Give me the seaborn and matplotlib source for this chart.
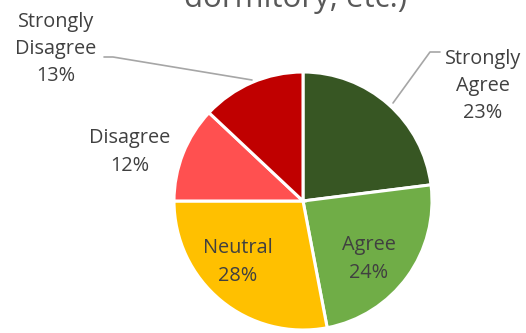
import matplotlib
matplotlib.use("Agg")
import matplotlib.pyplot as plt
import seaborn as sns

categories = ["Strongly Agree", "Agree", "Neutral", "Disagree", "Strongly Disagree"]
shares = [23, 24, 28, 12, 13]
colors = ["#375623", "#70AD47", "#FFC000", "#FF5050", "#C00000"]
title_tail = "dormitory, etc.)"

sns.set_theme(style="white")
plt.rcParams["font.family"] = ["Open Sans", "DejaVu Sans"]

W, H = 526, 333
fig = plt.figure(figsize=(W / 100, H / 100), dpi=100)
ax = fig.add_axes([0, 0, 1, 1])

cx, cy, r = 303, H - 201, 129
ax.pie(
    shares, colors=colors, startangle=90, counterclock=False,
    center=(cx, cy), radius=r, frame=True,
    wedgeprops=dict(edgecolor="white", linewidth=2.2),
)
ax.set_xlim(0, W)
ax.set_ylim(0, H)
ax.set_aspect("equal")
ax.axis("off")

txt = "#404040"
fs = 14.3

def label(name, value, x, y):
    ax.text(x, H - y, f"{name}\n{value}%", ha="center", va="center",
            fontsize=fs, color=txt, linespacing=1.48)

label("Strongly\nAgree", shares[0], 483, 86)
label("Agree", shares[1], 369, 259)
label("Neutral", shares[2], 238, 262)
label("Disagree", shares[3], 130, 152)
label("Strongly\nDisagree", shares[4], 56, 49)

lc = "#A6A6A6"
ax.plot([440, 430, 393], [H - 52, H - 52, H - 103], color=lc, lw=1.2)
ax.plot([104, 113, 252], [H - 57, H - 57, H - 80], color=lc, lw=1.2)

ax.text(296, H - 7, title_tail, ha="center", va="baseline",
        fontsize=22.5, color="#595959", clip_on=False)

fig.savefig("out.png", dpi=100)
